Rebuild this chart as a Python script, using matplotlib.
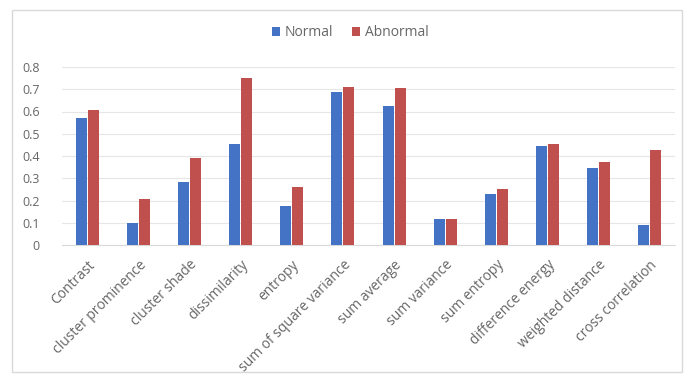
import matplotlib.pyplot as plt
import numpy as np
from matplotlib.patches import Rectangle

# GLCM texture features, normal vs abnormal
features = ['Contrast', 'cluster prominence', 'cluster shade', 'dissimilarity',
            'entropy', 'sum of square variance', 'sum average', 'sum variance',
            'sum entropy', 'difference energy', 'weighted distance', 'cross correlation']
normal = [0.57, 0.10, 0.283, 0.452, 0.174, 0.688, 0.625, 0.117, 0.227, 0.444, 0.344, 0.09]
abnormal = [0.608, 0.207, 0.39, 0.752, 0.26, 0.71, 0.705, 0.117, 0.253, 0.454, 0.373, 0.426]
yticks = [0, 0.1, 0.2, 0.3, 0.4, 0.5, 0.6, 0.7, 0.8]

blue = '#4472C4'
red = '#C0504D'
text_gray = '#666666'

plt.rcParams['font.family'] = ['Open Sans', 'DejaVu Sans']

fig = plt.figure(figsize=(6.94, 3.81), dpi=100)
fig.patches.append(Rectangle((12 / 694, 1 - 372 / 381), 670 / 694, 362 / 381,
                             transform=fig.transFigure, fill=False,
                             edgecolor='#D9D9D9', linewidth=1.0))

ax = fig.add_axes([62 / 694, 1 - 245 / 381, 613 / 694, 178 / 381])

x = np.arange(len(features))
w = 0.215
ax.bar(x - w / 2 - 0.01, normal, width=w, color=blue, label='Normal', zorder=3)
ax.bar(x + w / 2 + 0.01, abnormal, width=w, color=red, label='Abnormal', zorder=3)

ax.set_xlim(-0.5, len(features) - 0.5)
ax.set_ylim(0, 0.8)
ax.set_yticks(yticks)
ax.set_yticklabels([f'{v:g}' for v in yticks])
ax.yaxis.grid(True, color='#E6E6E6', linewidth=0.8, zorder=0)

ax.set_xticks(x)
ax.set_xticklabels(features, rotation=45, ha='right', rotation_mode='anchor')

for s in ['top', 'right', 'left']:
    ax.spines[s].set_visible(False)
ax.spines['bottom'].set_color('#D9D9D9')
ax.tick_params(axis='both', length=0, colors=text_gray)
ax.tick_params(axis='y', pad=16, labelsize=9)
ax.tick_params(axis='x', pad=9, labelsize=10)

fig.legend(loc='center', bbox_to_anchor=(350 / 694, 1 - 33 / 381), ncol=2,
           frameon=False, fontsize=10, labelcolor=text_gray,
           handlelength=0.6, handleheight=0.6, handletextpad=0.3, columnspacing=1.4)

fig.savefig('out.png', dpi=100)
